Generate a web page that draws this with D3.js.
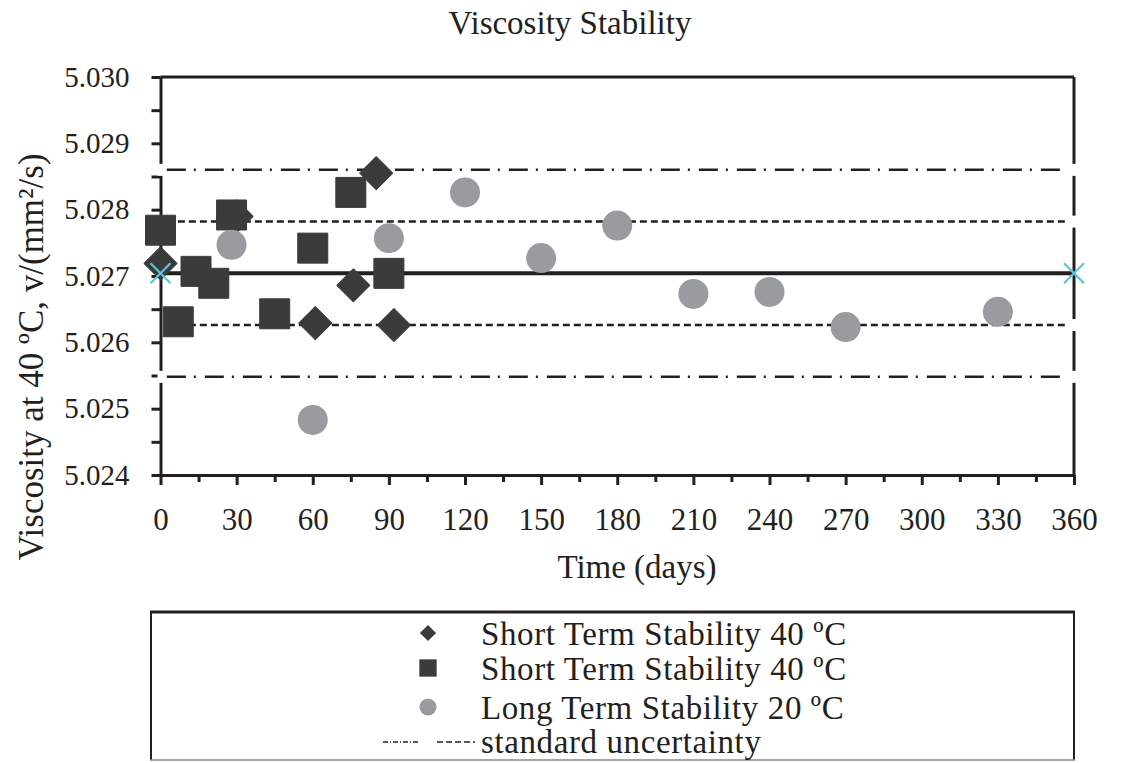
<!DOCTYPE html>
<html>
<head>
<meta charset="utf-8">
<title>Viscosity Stability</title>
<script src="https://d3js.org/d3.v7.min.js"></script>
<style>
  body { margin: 0; background: #fff; }
  svg { display: block; font-family: "Liberation Serif", "Times New Roman", serif; }
  .axis path, .axis line { stroke: #231f20; stroke-width: 3; }
  .axis text { fill: #231f20; font-family: "Liberation Serif", serif; }
  .xax text { font-size: 31px; }
  .yax text { font-size: 29px; }
</style>
</head>
<body>
<div id="chart"></div>
<script>
// data
var diamondDays = [0, 30, 61, 76, 85, 92];
var diamondVisc = [5.02719, 5.02790, 5.02629, 5.02686, 5.02855, 5.02626];

var squareDays = [0, 7, 14, 21, 28, 45, 60, 75, 90];
var squareVisc = [5.02769, 5.02631, 5.02707, 5.02689, 5.02792, 5.02643, 5.02742, 5.02826, 5.02704];

var circleDays = [28, 60, 90, 120, 150, 180, 210, 240, 270, 330];
var circleVisc = [5.02747, 5.02483, 5.02757, 5.02826, 5.02727, 5.02776, 5.02673, 5.02676, 5.02623, 5.02646];

var meanVisc = 5.02704;
var stdUnc = 0.00078;

var xTicks = [0, 30, 60, 90, 120, 150, 180, 210, 240, 270, 300, 330, 360];
var yTicks = [5.024, 5.025, 5.026, 5.027, 5.028, 5.029, 5.030];

var legendLabels = ["Short Term Stability 40 \u00baC", "Short Term Stability 40 \u00baC",
                    "Long Term Stability 20 \u00baC", "standard uncertainty"];

var dark = "#3b3b3c", grey = "#9a9b9e", ink = "#231f20", cyan = "#5cc6d4";

var svg = d3.select("#chart").append("svg")
    .attr("width", 1130).attr("height", 763);

var x = d3.scaleLinear().domain([0, 360]).range([160.5, 1074]);
var y = d3.scaleLinear().domain([5.024, 5.030]).range([475, 77]);

// minor ticks halfway between the labelled ones
var xMinor = xTicks.slice(1).map(function(d) { return d - 15; });
var yAll = [];
yTicks.forEach(function(d, i) {
  yAll.push(d);
  if (i < yTicks.length - 1) yAll.push((d + yTicks[i + 1]) / 2);
});

// x axis
svg.append("g").attr("class", "axis xax")
  .attr("transform", "translate(0,475)")
  .call(d3.axisBottom(x).tickValues(xMinor).tickSize(7).tickSizeOuter(0).tickFormat(""));
svg.append("g").attr("class", "axis xax")
  .attr("transform", "translate(0,475)")
  .call(d3.axisBottom(x).tickValues(xTicks).tickSize(10).tickSizeOuter(0).tickPadding(23));

// y axis
svg.append("g").attr("class", "axis yax")
  .attr("transform", "translate(160.5,0)")
  .call(d3.axisLeft(y).tickValues(yAll).tickSize(9).tickSizeOuter(0).tickPadding(22)
    .tickFormat(function(d) {
      return yTicks.some(function(t) { return Math.abs(t - d) < 1e-7; }) ? d3.format(".3f")(d) : "";
    }));

// frame top and right
svg.append("line").attr("x1", x(0)).attr("x2", x(360)).attr("y1", y(5.030)).attr("y2", y(5.030))
  .attr("stroke", ink).attr("stroke-width", 3);
svg.append("line").attr("x1", x(360)).attr("x2", x(360)).attr("y1", y(5.030)).attr("y2", y(5.024))
  .attr("stroke", ink).attr("stroke-width", 3);

// little white breaks where the uncertainty lines meet the frame
var uLines = [
  {v: meanVisc + 2 * stdUnc, dash: "19,8,2,9", left: true},
  {v: meanVisc + stdUnc, dash: "7,4", left: false},
  {v: meanVisc - stdUnc, dash: "7,4", left: false},
  {v: meanVisc - 2 * stdUnc, dash: "19,8,2,9", left: true}
];
uLines.forEach(function(u) {
  svg.append("rect").attr("x", x(360) - 3).attr("y", y(u.v) - 6).attr("width", 6).attr("height", 12).attr("fill", "#fff");
  if (u.left) svg.append("rect").attr("x", x(0) - 3).attr("y", y(u.v) - 6).attr("width", 6).attr("height", 12).attr("fill", "#fff");
});

// uncertainty lines and mean
uLines.forEach(function(u) {
  svg.append("line")
    .attr("x1", x(2.5)).attr("x2", x(357.5)).attr("y1", y(u.v)).attr("y2", y(u.v))
    .attr("stroke", ink).attr("stroke-width", 2.5).attr("stroke-dasharray", u.dash);
});
svg.append("line")
  .attr("x1", x(0)).attr("x2", x(360)).attr("y1", y(meanVisc)).attr("y2", y(meanVisc))
  .attr("stroke", ink).attr("stroke-width", 4);

// points
var diamond = d3.symbol().type(d3.symbolSquare).size(545);
var square = d3.symbol().type(d3.symbolSquare).size(900);
var circle = d3.symbol().type(d3.symbolCircle).size(707);

svg.selectAll(".dia").data(diamondDays).enter().append("path")
  .attr("d", diamond)
  .attr("transform", function(d, i) { return "translate(" + x(d) + "," + y(diamondVisc[i]) + ") rotate(45)"; })
  .attr("fill", dark).attr("stroke", dark).attr("stroke-linejoin", "round").attr("stroke-width", 1);

svg.selectAll(".sq").data(squareDays).enter().append("path")
  .attr("d", square)
  .attr("transform", function(d, i) { return "translate(" + x(d) + "," + y(squareVisc[i]) + ")"; })
  .attr("fill", dark).attr("stroke", dark).attr("stroke-linejoin", "round").attr("stroke-width", 1);

svg.selectAll(".ci").data(circleDays).enter().append("path")
  .attr("d", circle)
  .attr("transform", function(d, i) { return "translate(" + x(d) + "," + y(circleVisc[i]) + ")"; })
  .attr("fill", grey);

// cyan crosses at both ends of the mean line
[0, 360].forEach(function(d) {
  var cx = x(d), cy = y(meanVisc), s = 10;
  svg.append("path")
    .attr("d", "M" + (cx - s) + "," + (cy - s) + "L" + (cx + s) + "," + (cy + s) +
               "M" + (cx - s) + "," + (cy + s) + "L" + (cx + s) + "," + (cy - s))
    .attr("stroke", cyan).attr("stroke-width", 2.2).attr("fill", "none");
});

// titles
svg.append("text").attr("x", 570).attr("y", 34).attr("text-anchor", "middle")
  .attr("font-size", 33).attr("fill", ink).text("Viscosity Stability");
svg.append("text").attr("x", 637).attr("y", 578).attr("text-anchor", "middle")
  .attr("font-size", 33).attr("fill", ink).text("Time (days)");
svg.append("text").attr("transform", "translate(43,357) rotate(-90)").attr("text-anchor", "middle")
  .attr("font-size", 35).attr("fill", ink).text("Viscosity at 40 \u00baC, v/(mm\u00b2/s)");

// legend box
var lg = svg.append("g");
lg.append("line").attr("x1", 150).attr("x2", 1075).attr("y1", 612).attr("y2", 612).attr("stroke", ink).attr("stroke-width", 3);
lg.append("line").attr("x1", 151).attr("x2", 151).attr("y1", 612).attr("y2", 760).attr("stroke", ink).attr("stroke-width", 2);
lg.append("line").attr("x1", 1074).attr("x2", 1074).attr("y1", 612).attr("y2", 760).attr("stroke", ink).attr("stroke-width", 2);
lg.append("line").attr("x1", 150).attr("x2", 1075).attr("y1", 760).attr("y2", 760).attr("stroke", "#888").attr("stroke-width", 1.5);

var rowY = [633, 668, 707, 741];
lg.selectAll(".lt").data(legendLabels).enter().append("text")
  .attr("x", 481).attr("y", function(d, i) { return rowY[i]; }).attr("dy", "0.35em")
  .attr("font-size", 33).attr("letter-spacing", 0.6).attr("fill", ink).text(function(d) { return d; });

lg.append("path").attr("d", d3.symbol().type(d3.symbolSquare).size(130))
  .attr("transform", "translate(428," + rowY[0] + ") rotate(45)").attr("fill", dark);
lg.append("path").attr("d", d3.symbol().type(d3.symbolSquare).size(300))
  .attr("transform", "translate(428," + rowY[1] + ")").attr("fill", dark);
lg.append("path").attr("d", d3.symbol().type(d3.symbolCircle).size(230))
  .attr("transform", "translate(428," + rowY[2] + ")").attr("fill", grey);
lg.append("line").attr("x1", 383).attr("x2", 420).attr("y1", rowY[3] + 1).attr("y2", rowY[3] + 1)
  .attr("stroke", ink).attr("stroke-width", 1.5).attr("stroke-dasharray", "5,2,1,2");
lg.append("line").attr("x1", 437).attr("x2", 475).attr("y1", rowY[3] + 1).attr("y2", rowY[3] + 1)
  .attr("stroke", ink).attr("stroke-width", 1.5).attr("stroke-dasharray", "6,3");
</script>
</body>
</html>
